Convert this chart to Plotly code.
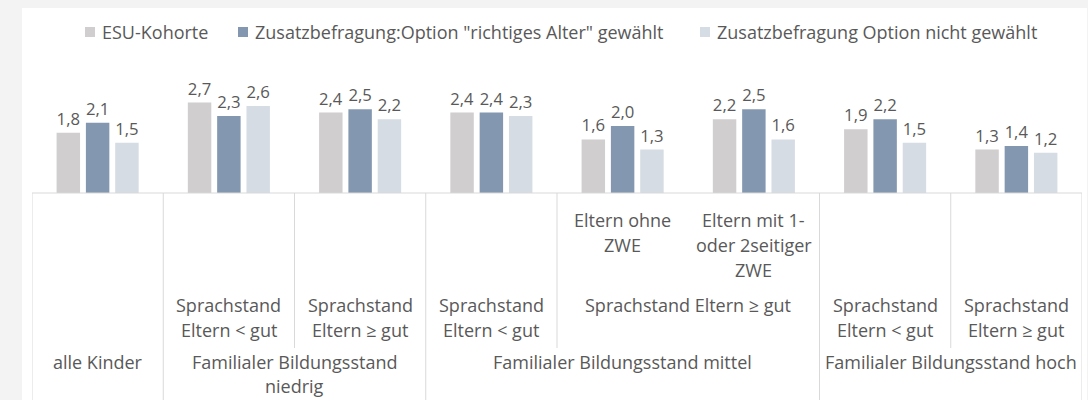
import plotly.graph_objects as go

# ---------------- data ----------------
series_names = [
    "ESU-Kohorte",
    'Zusatzbefragung:Option "richtiges Alter" gewählt',
    "Zusatzbefragung Option nicht gewählt",
]
esu_kohorte = [1.8, 2.7, 2.4, 2.4, 1.6, 2.2, 1.9, 1.3]
option_gewaehlt = [2.1, 2.3, 2.5, 2.4, 2.0, 2.5, 2.2, 1.4]
option_nicht_gewaehlt = [1.5, 2.6, 2.2, 2.3, 1.3, 1.6, 1.5, 1.2]

# innermost category level (one per category)
level0_labels = ["", "", "", "", "Eltern ohne\nZWE", "Eltern mit 1-\noder 2seitiger\nZWE", "", ""]
# middle level: (label, number of categories spanned)
level1_groups = [
    ("", 1),
    ("Sprachstand\nEltern < gut", 1),
    ("Sprachstand\nEltern ≥ gut", 1),
    ("Sprachstand\nEltern < gut", 1),
    ("Sprachstand Eltern ≥ gut", 2),
    ("Sprachstand\nEltern < gut", 1),
    ("Sprachstand\nEltern ≥ gut", 1),
]
# outer level
level2_groups = [
    ("alle Kinder", 1),
    ("Familialer Bildungsstand\nniedrig", 2),
    ("Familialer Bildungsstand mittel", 3),
    ("Familialer Bildungsstand hoch", 2),
]

# ---------------- style ----------------
colors = ["#D0CECE", "#8497B0", "#D6DCE4"]
text_color = "#595959"
line_color = "#D9D9D9"
FONT = "Open Sans"
W, H = 1088, 400
ML, MR, MT, MB = 32, 6, 40, 207
plot_w = W - ML - MR
plot_h = H - MT - MB
px_per_unit = 33.5
ymax = plot_h / px_per_unit


def expand(groups):
    out = []
    for lab, n in groups:
        out += [lab] * n
    return out


lv1 = expand(level1_groups)
lv2 = expand(level2_groups)
categories = [
    " / ".join(p.replace("\n", " ") for p in (a, b, c) if p)
    for a, b, c in zip(lv2, lv1, level0_labels)
]


def fmt(v):
    return f"{v:.1f}".replace(".", ",")


def py(ypx):  # pixel from top -> paper y
    return (H - MB - ypx) / plot_h


def px(xpx):  # pixel from left -> paper x
    return (xpx - ML) / plot_w


fig = go.Figure()
for name, vals, col in zip(series_names, [esu_kohorte, option_gewaehlt, option_nicht_gewaehlt], colors):
    fig.add_trace(go.Bar(
        x=categories, y=vals, name=name,
        marker=dict(color=col, line=dict(width=0)),
        text=[fmt(v) for v in vals], textposition="outside",
        textfont=dict(family=FONT, size=17, color=text_color),
        cliponaxis=False, showlegend=False,
    ))

shapes = []
annotations = []

# white chart card on grey page
shapes.append(dict(type="rect", xref="paper", yref="paper", layer="below",
                   x0=px(22), x1=px(1087), y0=py(H + 5), y1=py(8),
                   fillcolor="white", line=dict(width=0)))

# axis line
shapes.append(dict(type="line", xref="paper", yref="paper", x0=0, x1=1, y0=0, y1=0,
                   line=dict(color=line_color, width=1)))


# boundaries
def bounds(groups):
    b, s = set(), 0
    for _, n in groups:
        s += n
        b.add(s)
    return b


b2 = bounds(level2_groups) | {0}
b1 = bounds(level1_groups) | {0}
n_cat = len(categories)
for k in range(n_cat + 1):
    if k in b2:
        y_end = H + 5
    elif k in b1:
        y_end = 348
    else:
        continue
    shapes.append(dict(type="line", xref="x", yref="paper", x0=k - 0.5, x1=k - 0.5,
                       y0=py(193), y1=py(y_end), line=dict(color=line_color, width=1)))

LINE_STEP = 25


def add_label(text, center, top_px, step=LINE_STEP):
    for j, line in enumerate(text.split("\n")):
        if not line:
            continue
        annotations.append(dict(x=center, y=py(top_px + j * step), xref="x", yref="paper",
                                text=line, showarrow=False, xanchor="center", yanchor="middle",
                                font=dict(family=FONT, size=18, color=text_color)))


for i, lab in enumerate(level0_labels):
    add_label(lab, i, 220)
s = 0
for lab, n in level1_groups:
    add_label(lab, s + (n - 1) / 2, 305)
    s += n
s = 0
for lab, n in level2_groups:
    add_label(lab, s + (n - 1) / 2, 362, step=24)
    s += n

# legend (custom, to match spacing)
legend_sq_x = [85, 238, 700]
for name, col, x0 in zip(series_names, colors, legend_sq_x):
    shapes.append(dict(type="rect", xref="paper", yref="paper",
                       x0=px(x0), x1=px(x0 + 10), y0=py(37), y1=py(27),
                       fillcolor=col, line=dict(width=0)))
    annotations.append(dict(x=px(x0 + 15), y=py(32), xref="paper", yref="paper",
                            text=name, showarrow=False, xanchor="left", yanchor="middle",
                            font=dict(family=FONT, size=18, color=text_color)))

fig.update_layout(
    width=W, height=H,
    margin=dict(l=ML, r=MR, t=MT, b=MB),
    paper_bgcolor="#F3F3F3", plot_bgcolor="rgba(0,0,0,0)",
    barmode="group", bargap=0.33, bargroupgap=0.2,
    xaxis=dict(type="category", showticklabels=False, showgrid=False, zeroline=False,
               showline=False, ticks="", range=[-0.5, n_cat - 0.5], fixedrange=True),
    yaxis=dict(range=[0, ymax], visible=False, fixedrange=True),
    shapes=shapes, annotations=annotations,
    font=dict(family=FONT, color=text_color),
)

fig.write_html("out.html", config={"displayModeBar": False},
               post_script="document.body.style.margin='0';document.body.style.overflow='hidden';")
